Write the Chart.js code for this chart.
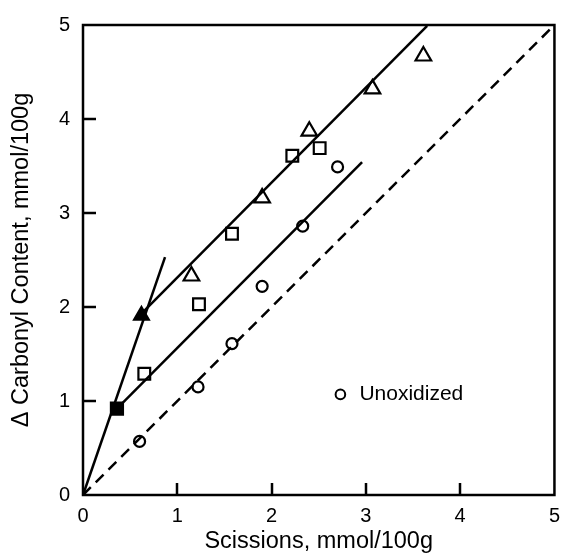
<!DOCTYPE html>
<html>
<head>
<meta charset="utf-8">
<script src="https://cdn.jsdelivr.net/npm/chart.js@4.4.1/dist/chart.umd.min.js"></script>
<style>
  html, body { margin: 0; padding: 0; background: #fff; }
  #wrap { width: 569px; height: 560px; }
</style>
</head>
<body>
<div id="wrap"><canvas id="scissionChart" width="569" height="560"></canvas></div>
<script>
// tick labels
var xTicks = [0, 1, 2, 3, 4, 5];
var yTicks = [0, 1, 2, 3, 4, 5];

// Unoxidized (open circles)
var circleX = [0.60, 1.22, 1.58, 1.90, 2.33, 2.70];
var circleY = [0.57, 1.15, 1.61, 2.22, 2.86, 3.49];
// open squares
var squareX = [0.65, 1.23, 1.58, 2.22, 2.51];
var squareY = [1.29, 2.03, 2.78, 3.61, 3.69];
// open triangles
var triangleX = [1.15, 1.90, 2.40, 3.07, 3.61];
var triangleY = [2.33, 3.16, 3.87, 4.32, 4.67];
// filled points
var filledSquareX = [0.36];
var filledSquareY = [0.92];
var filledTriangleX = [0.62];
var filledTriangleY = [1.91];

// fitted lines
var diagX = [0, 4.95];
var diagY = [0, 4.95];
var steepX = [0, 0.87];
var steepY = [0, 2.53];
var triLineX = [0.62, 3.65];
var triLineY = [1.93, 4.99];
var sqLineX = [0.36, 2.96];
var sqLineY = [0.92, 3.54];

function pts(xs, ys) {
  return xs.map(function (x, i) { return {x: x, y: ys[i]}; });
}

var FONT = 'Liberation Sans, Arial, Helvetica, sans-serif';

function lineSet(xs, ys, dash) {
  return {
    type: 'line',
    data: pts(xs, ys),
    borderColor: '#000',
    borderWidth: 2.5,
    borderDash: dash || [],
    pointRadius: 0,
    fill: false,
    clip: false
  };
}

function markerSet(label, xs, ys, style, r, filled) {
  return {
    label: label,
    data: pts(xs, ys),
    pointStyle: style,
    pointRadius: r,
    pointBorderWidth: 2.2,
    pointBorderColor: '#000',
    pointBackgroundColor: filled ? '#000' : '#fff',
    showLine: false,
    clip: false
  };
}

// box, inward ticks and the in-plot key
var framePlugin = {
  id: 'frame',
  afterDraw: function (chart) {
    var ctx = chart.ctx;
    var a = chart.chartArea;
    var sx = chart.scales.x, sy = chart.scales.y;
    ctx.save();
    ctx.strokeStyle = '#000';
    ctx.lineWidth = 2.5;
    ctx.strokeRect(a.left, a.top, a.right - a.left, a.bottom - a.top);
    ctx.beginPath();
    xTicks.slice(1, -1).forEach(function (v) {
      var px = Math.round(sx.getPixelForValue(v));
      ctx.moveTo(px, a.bottom);
      ctx.lineTo(px, a.bottom - 12);
    });
    yTicks.slice(1, -1).forEach(function (v) {
      var py = Math.round(sy.getPixelForValue(v));
      ctx.moveTo(a.left, py);
      ctx.lineTo(a.left + 13, py);
    });
    ctx.stroke();

    // key: open circle + "Unoxidized"
    var kx = sx.getPixelForValue(2.73), ky = sy.getPixelForValue(1.07);
    ctx.lineWidth = 2;
    ctx.beginPath();
    ctx.arc(kx, ky, 4.8, 0, Math.PI * 2);
    ctx.stroke();
    ctx.fillStyle = '#000';
    ctx.font = '21px ' + FONT;
    ctx.textBaseline = 'middle';
    ctx.textAlign = 'left';
    ctx.fillText('Unoxidized', kx + 19, ky);
    ctx.restore();
  }
};

new Chart(document.getElementById('scissionChart'), {
  type: 'scatter',
  data: {
    datasets: [
      lineSet(diagX, diagY, [11, 7]),
      lineSet(steepX, steepY),
      lineSet(triLineX, triLineY),
      lineSet(sqLineX, sqLineY),
      markerSet('Unoxidized', circleX, circleY, 'circle', 5.5, false),
      markerSet('Squares', squareX, squareY, 'rect', 8.3, false),
      markerSet('Triangles', triangleX, triangleY, 'triangle', 9, false),
      markerSet('Filled square', filledSquareX, filledSquareY, 'rect', 8.5, true),
      markerSet('Filled triangle', filledTriangleX, filledTriangleY, 'triangle', 8.5, true)
    ]
  },
  options: {
    responsive: false,
    animation: false,
    layout: { padding: { top: 20, right: 8, left: 0, bottom: 0 } },
    plugins: {
      legend: { display: false },
      tooltip: { enabled: false }
    },
    scales: {
      x: {
        type: 'linear',
        min: 0,
        max: 5,
        afterFit: function (s) { s.height = 65; },
        afterBuildTicks: function (s) { s.ticks = xTicks.map(function (v) { return {value: v}; }); },
        grid: { display: false, drawTicks: false },
        border: { display: false },
        ticks: { color: '#000', padding: 9, font: { family: FONT, size: 20 } },
        title: {
          display: true,
          text: 'Scissions, mmol/100g',
          color: '#000',
          font: { family: FONT, size: 23.5 },
          padding: { top: 0, bottom: 4 }
        }
      },
      y: {
        type: 'linear',
        min: 0,
        max: 5,
        afterFit: function (s) { s.width = 83; },
        afterBuildTicks: function (s) { s.ticks = yTicks.map(function (v) { return {value: v}; }); },
        grid: { display: false, drawTicks: false },
        border: { display: false },
        ticks: { color: '#000', padding: 13, font: { family: FONT, size: 20 } },
        title: {
          display: true,
          text: '\u0394 Carbonyl Content, mmol/100g',
          color: '#000',
          font: { family: FONT, size: 23.5 },
          padding: { top: 7, bottom: 0 }
        }
      }
    }
  },
  plugins: [framePlugin]
});
</script>
</body>
</html>
